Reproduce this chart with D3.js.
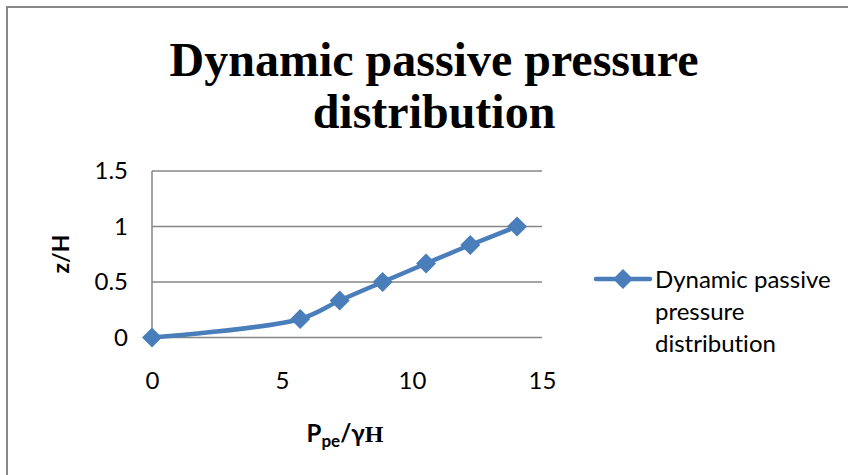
<!DOCTYPE html>
<html><head><meta charset="utf-8">
<script src="https://cdn.jsdelivr.net/npm/d3@7"></script>
<style>html,body{margin:0;padding:0;background:#fff;}svg{display:block;}text{font-variant-ligatures:none;}</style>
</head><body>
<svg id="chart" width="848" height="475"></svg>
<script>
const xValues = [0, 5.70, 7.22, 8.87, 10.54, 12.24, 14.04];
const yValues = [0, 0.167, 0.333, 0.5, 0.667, 0.833, 1.0];
const xTicks = [0, 5, 10, 15];
const yTicks = [0, 0.5, 1, 1.5];
const titleLines = ["Dynamic passive pressure", "distribution"];
const legendLines = ["Dynamic passive", "pressure", "distribution"];

const svg = d3.select("#chart");
const blue = "#4A7EBB";
const grid = "#868686";

// outer frame
svg.append("rect").attr("x", 7).attr("y", 7).attr("width", 860).attr("height", 480)
  .attr("fill", "#fff").attr("stroke", "#888").attr("stroke-width", 2);

const x = d3.scaleLinear().domain([0, 15]).range([152, 542]);
const y = d3.scaleLinear().domain([0, 1.5]).range([337.5, 171]);

// title
svg.append("text").attr("text-anchor", "middle")
  .attr("font-family", "Liberation Serif, Times New Roman, serif").attr("font-weight", "bold")
  .attr("font-size", 48).attr("fill", "#000")
  .selectAll("tspan").data(titleLines).join("tspan")
  .attr("x", 434).attr("y", (d, i) => 76 + i * 52).text(d => d);

// gridlines
svg.append("g").selectAll("line").data(yTicks).join("line")
  .attr("x1", x(0)).attr("x2", x(15)).attr("y1", d => y(d)).attr("y2", d => y(d))
  .attr("stroke", grid).attr("stroke-width", 1.5);
// y axis line
svg.append("line").attr("x1", x(0)).attr("x2", x(0)).attr("y1", y(1.5)).attr("y2", y(0))
  .attr("stroke", grid).attr("stroke-width", 1.5);

const tickFont = "Lato, Calibri, sans-serif";
// y tick labels
const yAxis = d3.axisLeft(y).tickValues(yTicks).tickSize(0).tickPadding(24).tickFormat(d3.format("~g"));
const gy = svg.append("g").attr("transform", `translate(${x(0)},0)`).call(yAxis);
gy.select(".domain").remove();
gy.selectAll("text").attr("font-family", tickFont).attr("font-size", 24).attr("fill", "#000");

// x tick labels
const xAxis = d3.axisBottom(x).tickValues(xTicks).tickSize(0).tickPadding(34).tickFormat(d3.format("~g"));
const gx = svg.append("g").attr("transform", `translate(0,${y(0)})`).call(xAxis);
gx.select(".domain").remove();
gx.selectAll("text").attr("font-family", tickFont).attr("font-size", 24).attr("fill", "#000");

// axis titles
svg.append("text").attr("transform", "translate(69,254) rotate(-90)").attr("text-anchor", "middle")
  .attr("font-family", tickFont).attr("font-weight", "bold").attr("font-size", 23).text("z/H");

const xt = svg.append("text").attr("x", 345).attr("y", 442).attr("text-anchor", "middle")
  .attr("font-family", tickFont).attr("font-weight", "bold").attr("font-size", 24);
xt.append("tspan").text("P");
xt.append("tspan").attr("font-size", 17).attr("dy", 5).text("pe");
xt.append("tspan").attr("dy", -5).text("/γ");
xt.append("tspan").attr("font-family", "Liberation Serif, serif").text("H");

// line
const data = xValues.map((v, i) => ({x: v, y: yValues[i]}));
const line = d3.line().x(d => x(d.x)).y(d => y(d.y)).curve(d3.curveCatmullRom.alpha(0.5));
svg.append("path").datum(data).attr("d", line).attr("fill", "none")
  .attr("stroke", blue).attr("stroke-width", 4.5).attr("stroke-linejoin", "round");

const diamond = d3.symbol().type(d3.symbolSquare).size(200);
svg.append("g").selectAll("path").data(data).join("path")
  .attr("d", diamond)
  .attr("transform", d => `translate(${x(d.x)},${y(d.y)}) rotate(45)`)
  .attr("fill", blue);

// legend
const ly = 279;
svg.append("line").attr("x1", 596).attr("x2", 650).attr("y1", ly).attr("y2", ly)
  .attr("stroke", blue).attr("stroke-width", 4.5).attr("stroke-linecap", "round");
svg.append("path").attr("d", diamond).attr("transform", `translate(623,${ly}) rotate(45)`).attr("fill", blue);
svg.append("text").attr("font-family", tickFont).attr("font-size", 24).attr("fill", "#000")
  .selectAll("tspan").data(legendLines).join("tspan")
  .attr("x", 655).attr("y", (d, i) => 288 + i * 32).text(d => d);
</script>
</body></html>
